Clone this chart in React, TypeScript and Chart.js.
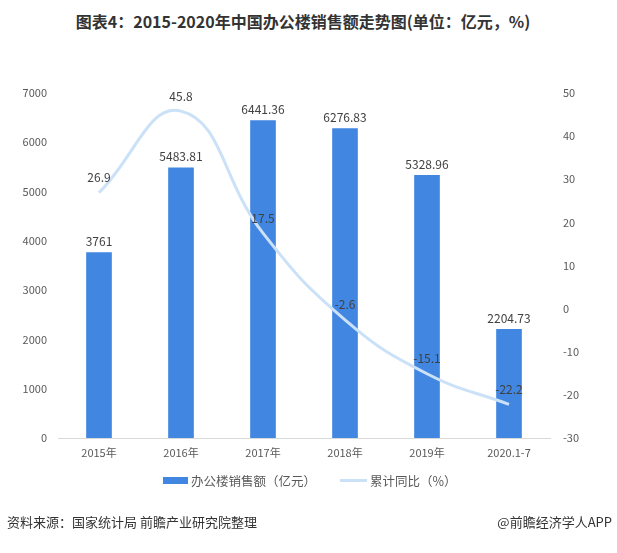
import React, { useEffect, useRef } from "react";
import { Chart, registerables } from "chart.js";

Chart.register(...registerables);

const categories = ["2015年", "2016年", "2017年", "2018年", "2019年", "2020.1-7"];
const salesValues = [3761, 5483.81, 6441.36, 6276.83, 5328.96, 2204.73];
const salesLabels = ["3761", "5483.81", "6441.36", "6276.83", "5328.96", "2204.73"];
const growthValues = [26.9, 45.8, 17.5, -2.6, -15.1, -22.2];
const growthLabels = ["26.9", "45.8", "17.5", "-2.6", "-15.1", "-22.2"];

const BAR_COLOR = "#4186e0";
const LINE_COLOR = "#cbe1f8";
const TEXT_COLOR = "#404040";
const FONT = '"Noto Sans CJK SC", "Noto Sans", sans-serif';

const labelPlugin = {
  id: "valueLabels",
  afterDatasetsDraw(chart: any) {
    const ctx = chart.ctx;
    ctx.save();
    ctx.font = `12px ${FONT}`;
    ctx.fillStyle = TEXT_COLOR;
    ctx.textAlign = "center";
    ctx.textBaseline = "bottom";
    const barMeta = chart.getDatasetMeta(0);
    barMeta.data.forEach((el: any, i: number) => {
      ctx.fillText(salesLabels[i], el.x, el.y - 5);
    });
    const lineMeta = chart.getDatasetMeta(1);
    lineMeta.data.forEach((el: any, i: number) => {
      ctx.fillText(growthLabels[i], el.x, el.y - 9);
    });
    ctx.restore();
  },
};

export default function App() {
  const ref = useRef<HTMLCanvasElement>(null);
  useEffect(() => {
    const chart = new Chart(ref.current as HTMLCanvasElement, {
      type: "bar",
      data: {
        labels: categories,
        datasets: [
          {
            type: "bar",
            label: "办公楼销售额（亿元）",
            data: salesValues,
            backgroundColor: BAR_COLOR,
            yAxisID: "y",
            barThickness: 25,
            order: 2,
          },
          {
            type: "line",
            label: "累计同比（%）",
            data: growthValues,
            borderColor: LINE_COLOR,
            backgroundColor: LINE_COLOR,
            borderWidth: 3,
            pointRadius: 0,
            tension: 0.45,
            yAxisID: "y1",
            order: 1,
          } as any,
        ],
      },
      options: {
        animation: false,
        responsive: false,
        layout: { padding: { top: 93, left: 0, right: 0, bottom: 0 } },
        plugins: { legend: { display: false }, tooltip: { enabled: false } },
        scales: {
          x: {
            grid: { display: false, drawTicks: false },
            border: { display: true, color: "#d9d9d9" },
            ticks: { color: "#595959", font: { size: 11, family: FONT }, padding: 8, maxRotation: 0 },
            afterFit(s: any) { s.height = 115; },
          },
          y: {
            position: "left",
            min: 0,
            max: 7000,
            grid: { display: false, drawTicks: false },
            border: { display: false },
            ticks: { stepSize: 1000, color: "#595959", font: { size: 11, family: FONT }, padding: 11, callback: (v: any) => String(v) },
            afterFit(s: any) { s.width = 58; },
          },
          y1: {
            position: "right",
            min: -30,
            max: 50,
            grid: { display: false, drawTicks: false },
            border: { display: false },
            ticks: { stepSize: 10, color: "#595959", font: { size: 11, family: FONT }, padding: 13, callback: (v: any) => String(v) },
            afterFit(s: any) { s.width = 67; },
          },
        },
      } as any,
      plugins: [labelPlugin],
    });
    return () => chart.destroy();
  }, []);

  return (
    <div style={{ position: "fixed", left: 0, top: 0, width: 617, height: 553, background: "#fff", fontFamily: FONT }}>
      <div style={{ position: "absolute", top: 9, left: 0, width: 606, textAlign: "center", fontSize: 16, fontWeight: "bold", color: "#333" }}>
        图表4：2015-2020年中国办公楼销售额走势图(单位：亿元，%)
      </div>
      <canvas ref={ref} width={617} height={553} style={{ position: "absolute", left: 0, top: 0 }} />
      <div style={{ position: "absolute", top: 471, left: 163, display: "flex", alignItems: "center", fontSize: 12.5, color: "#595959" }}>
        <span style={{ display: "inline-block", width: 25, height: 7, background: BAR_COLOR, marginRight: 3 }} />
        <span>办公楼销售额（亿元）</span>
        <span style={{ display: "inline-block", width: 27, height: 3, background: LINE_COLOR, marginLeft: 24, marginRight: 3 }} />
        <span>累计同比（%）</span>
      </div>
      <div style={{ position: "absolute", top: 512, left: 7, fontSize: 13, color: "#333" }}>
        资料来源：国家统计局 前瞻产业研究院整理
      </div>
      <div style={{ position: "absolute", top: 512, right: 5, fontSize: 13, color: "#333" }}>
        @前瞻经济学人APP
      </div>
    </div>
  );
}
